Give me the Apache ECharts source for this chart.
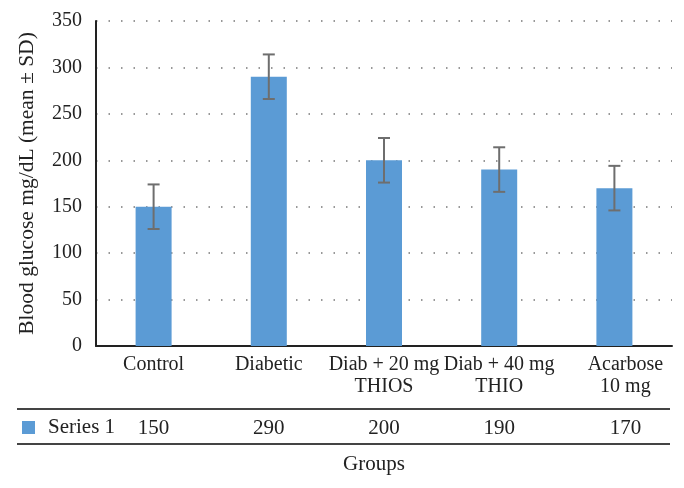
<!DOCTYPE html>
<html>
<head>
<meta charset="utf-8">
<script src="https://cdn.jsdelivr.net/npm/echarts@6/dist/echarts.min.js"></script>
<style>
  html, body { margin: 0; padding: 0; background: #fff; }
  #chart { width: 684px; height: 488px; }
</style>
</head>
<body>
<div id="chart"></div>
<script>
'use strict'

const groups = ['Control', 'Diabetic', 'Diab + 20 mg\nTHIOS', 'Diab + 40 mg\nTHIO', 'Acarbose\n10 mg']
const means = [150, 290, 200, 190, 170]
const sds = [24, 24, 24, 24, 24]
const yTicks = { min: 0, max: 350, interval: 50 }

const FONT = '"Liberation Serif", "DejaVu Serif", serif'
const dom = document.getElementById('chart')
const chart = echarts.init(dom)

// error bars drawn with a custom series
function renderErrorBar (params, api) {
  const x = api.value(0)
  const top = api.coord([x, api.value(1)])
  const bottom = api.coord([x, api.value(2)])
  const half = 6
  const style = { stroke: '#6e6e6e', lineWidth: 2 }
  return {
    type: 'group',
    children: [
      { type: 'line', shape: { x1: top[0], y1: top[1], x2: bottom[0], y2: bottom[1] }, style },
      { type: 'line', shape: { x1: top[0] - half, y1: top[1], x2: top[0] + half, y2: top[1] }, style },
      { type: 'line', shape: { x1: bottom[0] - half, y1: bottom[1], x2: bottom[0] + half, y2: bottom[1] }, style }
    ]
  }
}

// last column label sits a bit to the right, like the original table
function shiftLast (value, index) {
  if (index !== groups.length - 1) return value
  return String(value).split('\n').map(s => '{s|' + s + '}').join('\n')
}

const errorData = means.map((m, i) => [i, m + sds[i], m - sds[i]])
const catRich = { s: { fontFamily: FONT, fontSize: 20, color: '#222', padding: [0, 0, 0, 22] } }
const valRich = { s: { fontFamily: FONT, fontSize: 21, color: '#222', padding: [0, 0, 0, 22] } }

const option = {
  animation: false,
  textStyle: { fontFamily: FONT },
  grid: { left: 96, right: 12, top: 21, bottom: 142 },
  legend: {
    data: ['Series 1'],
    left: 17,
    top: 412,
    icon: 'rect',
    itemWidth: 13,
    itemHeight: 13,
    textStyle: { fontFamily: FONT, fontSize: 21, color: '#222', padding: [0, 0, 0, 8] }
  },
  xAxis: [
    {
      type: 'category',
      data: groups,
      axisLine: { lineStyle: { color: '#222', width: 2 } },
      axisTick: { show: false },
      axisLabel: {
        interval: 0,
        fontFamily: FONT,
        fontSize: 20,
        color: '#222',
        lineHeight: 22,
        verticalAlign: 'top',
        margin: 8,
        formatter: shiftLast,
        rich: catRich
      },
      name: 'Groups',
      nameLocation: 'middle',
      nameGap: 108,
      nameTextStyle: { fontFamily: FONT, fontSize: 21, color: '#222', padding: [0, 20, 0, 0] }
    },
    {
      type: 'category',
      data: means.map(String),
      position: 'bottom',
      axisLine: { show: false },
      axisTick: { show: false },
      axisLabel: {
        interval: 0,
        fontFamily: FONT,
        fontSize: 21,
        color: '#222',
        verticalAlign: 'middle',
        margin: 82,
        formatter: shiftLast,
        rich: valRich
      }
    }
  ],
  yAxis: {
    type: 'value',
    min: yTicks.min,
    max: yTicks.max,
    interval: yTicks.interval,
    name: 'Blood glucose mg/dL (mean ± SD)',
    nameLocation: 'middle',
    nameGap: 58,
    nameTextStyle: { fontFamily: FONT, fontSize: 21.5, color: '#222' },
    axisLine: { show: true, lineStyle: { color: '#222', width: 2 } },
    axisTick: { show: false },
    axisLabel: { fontFamily: FONT, fontSize: 20, color: '#222', margin: 14 },
    splitLine: { lineStyle: { color: '#777', width: 1.5, type: [1.5, 11] } }
  },
  graphic: [
    { type: 'line', shape: { x1: 17, y1: 409, x2: 670, y2: 409 }, style: { stroke: '#444', lineWidth: 2 } },
    { type: 'line', shape: { x1: 17, y1: 444, x2: 670, y2: 444 }, style: { stroke: '#444', lineWidth: 2 } }
  ],
  series: [
    {
      name: 'Series 1',
      type: 'bar',
      data: means,
      barWidth: 36,
      itemStyle: { color: '#5b9bd5' }
    },
    {
      name: 'SD',
      type: 'custom',
      renderItem: renderErrorBar,
      data: errorData,
      encode: { x: 0, y: [1, 2] },
      z: 10
    }
  ]
}

chart.setOption(option)
</script>
</body>
</html>
